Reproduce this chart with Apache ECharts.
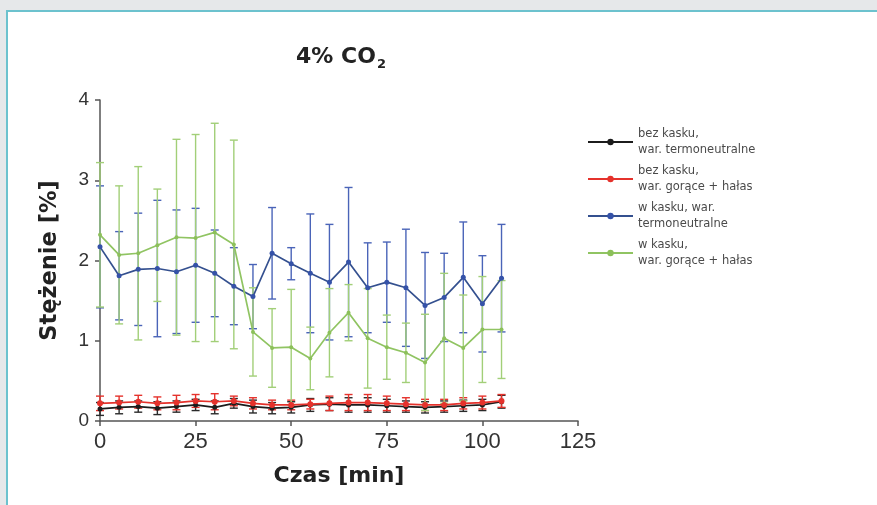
<!DOCTYPE html>
<html>
<head>
<meta charset="utf-8">
<script src="https://cdn.jsdelivr.net/npm/echarts@6/dist/echarts.min.js"></script>
<style>
html,body{margin:0;padding:0;background:#e6e8ea;width:877px;height:505px;overflow:hidden;}
#panel{position:absolute;left:6px;top:10px;width:890px;height:510px;border:2px solid #6cc2ce;background:#fff;}
#chart{position:absolute;left:0;top:0;width:877px;height:505px;}
</style>
</head>
<body>
<div id="panel"></div>
<div id="chart"></div>
<script>
const times = [0,5,10,15,20,25,30,35,40,45,50,55,60,65,70,75,80,85,90,95,100,105];
const seriesNames = ['bez kasku,\nwar. termoneutralne','bez kasku,\nwar. gorące + hałas','w kasku, war.\ntermoneutralne','w kasku,\nwar. gorące + hałas'];
const blackMean = [0.15,0.17,0.18,0.16,0.18,0.20,0.17,0.22,0.18,0.16,0.17,0.20,0.21,0.20,0.20,0.19,0.18,0.17,0.18,0.19,0.20,0.24];
const blackSd   = [0.08,0.08,0.07,0.08,0.07,0.07,0.08,0.06,0.08,0.07,0.07,0.08,0.08,0.09,0.09,0.08,0.07,0.07,0.07,0.07,0.07,0.08];
const redMean   = [0.22,0.23,0.24,0.22,0.23,0.25,0.24,0.25,0.22,0.20,0.20,0.21,0.22,0.23,0.23,0.22,0.21,0.20,0.20,0.22,0.23,0.25];
const redSd     = [0.09,0.08,0.08,0.08,0.09,0.08,0.10,0.06,0.07,0.06,0.06,0.06,0.09,0.10,0.10,0.09,0.08,0.07,0.07,0.07,0.08,0.08];
const blueMean  = [2.17,1.81,1.89,1.90,1.86,1.94,1.84,1.68,1.55,2.09,1.96,1.84,1.73,1.98,1.66,1.73,1.66,1.44,1.54,1.79,1.46,1.78];
const blueSd    = [0.76,0.55,0.70,0.85,0.77,0.71,0.54,0.48,0.40,0.57,0.20,0.74,0.72,0.93,0.56,0.50,0.73,0.66,0.55,0.69,0.60,0.67];
const greenMean = [2.32,2.07,2.09,2.19,2.29,2.28,2.35,2.20,1.11,0.91,0.92,0.78,1.10,1.35,1.03,0.92,0.85,0.73,1.03,0.91,1.14,1.14];
const greenSd   = [0.90,0.86,1.08,0.70,1.22,1.29,1.36,1.30,0.55,0.49,0.72,0.39,0.55,0.35,0.62,0.40,0.37,0.60,0.81,0.66,0.66,0.61];
const xTicks = [0,25,50,75,100,125];
const yTicks = [0,1,2,3,4];

const lineColors = ['#1c1c1c','#e5322c','#34508f','#90c462'];
const markColors = ['#1c1c1c','#e5322c','#3552a8','#8cc05a'];
const barColors  = ['#2a2a2a','#e5322c','#4a64b8','#a2cf78'];
const symSizes = [5,6,5,4];
const means = [blackMean, redMean, blueMean, greenMean];
const sds = [blackSd, redSd, blueSd, greenSd];

function errData(m, s){ return times.map((t,i)=>[t, m[i]-s[i], m[i]+s[i]]); }

const errSeries = means.map((m,k)=>({
  type:'custom', name:'err'+k, z:1,
  data: errData(m, sds[k]),
  encode:{x:0, y:[1,2]},
  renderItem: function(params, api){
    const x = api.value(0);
    const lo = api.coord([x, api.value(1)]);
    const hi = api.coord([x, api.value(2)]);
    const w = 4;
    const st = {stroke: barColors[k], lineWidth: 1.4};
    return {type:'group', children:[
      {type:'line', shape:{x1:lo[0],y1:lo[1],x2:hi[0],y2:hi[1]}, style:st},
      {type:'line', shape:{x1:lo[0]-w,y1:lo[1],x2:lo[0]+w,y2:lo[1]}, style:st},
      {type:'line', shape:{x1:hi[0]-w,y1:hi[1],x2:hi[0]+w,y2:hi[1]}, style:st}
    ]};
  }
}));

const lineSeries = means.map((m,k)=>({
  type:'line', name: seriesNames[k], z:3,
  data: times.map((t,i)=>[t, m[i]]),
  symbol:'circle', symbolSize:symSizes[k], showSymbol:true,
  lineStyle:{color:lineColors[k], width:1.7},
  itemStyle:{color:markColors[k]},
  color: lineColors[k]
}));

const chart = echarts.init(document.getElementById('chart'), null, {renderer:'canvas'});
chart.setOption({
  backgroundColor:'transparent',
  animation:false,
  title:{
    text:'{a|4% CO}{s|2}', left:336, top:39, textAlign:'center',
    textStyle:{rich:{
      a:{fontFamily:'DejaVu Sans', fontWeight:'bold', fontSize:22, color:'#222'},
      s:{fontFamily:'DejaVu Sans', fontWeight:'bold', fontSize:13, color:'#222', padding:[14,0,0,1]}
    }}
  },
  legend:{
    orient:'vertical', left:582, top:121, itemGap:5,
    itemWidth:45, itemHeight:8,
    data: seriesNames,
    textStyle:{fontFamily:'DejaVu Sans', fontSize:11.5, color:'#4a4a4a', lineHeight:16}
  },
  grid:{left:100, right:299, top:100, bottom:84},
  xAxis:{
    type:'value', min:0, max:125, interval:25,
    name:'Czas [min]', nameLocation:'middle', nameGap:44,
    nameTextStyle:{fontFamily:'DejaVu Sans', fontWeight:'bold', fontSize:22, color:'#222'},
    axisLine:{show:true, lineStyle:{color:'#555', width:1.5}},
    axisTick:{show:true, length:5, lineStyle:{color:'#555', width:1.5}},
    axisLabel:{fontFamily:'Liberation Sans, Arial', fontSize:22, color:'#333', margin:10,
      formatter: v => xTicks.includes(v) ? String(v) : ''},
    splitLine:{show:false}
  },
  yAxis:{
    type:'value', min:0, max:4, interval:1,
    name:'Stężenie [%]', nameLocation:'middle', nameGap:38, nameRotate:90,
    nameTextStyle:{fontFamily:'DejaVu Sans', fontWeight:'bold', fontSize:22.5, color:'#222'},
    axisLine:{show:true, lineStyle:{color:'#555', width:1.5}},
    axisTick:{show:true, length:5, lineStyle:{color:'#555', width:1.5}},
    axisLabel:{fontFamily:'Liberation Sans, Arial', fontSize:19, color:'#333', margin:11,
      formatter: v => yTicks.includes(v) ? String(v) : ''},
    splitLine:{show:false}
  },
  series: errSeries.concat(lineSeries)
});
</script>
</body>
</html>
